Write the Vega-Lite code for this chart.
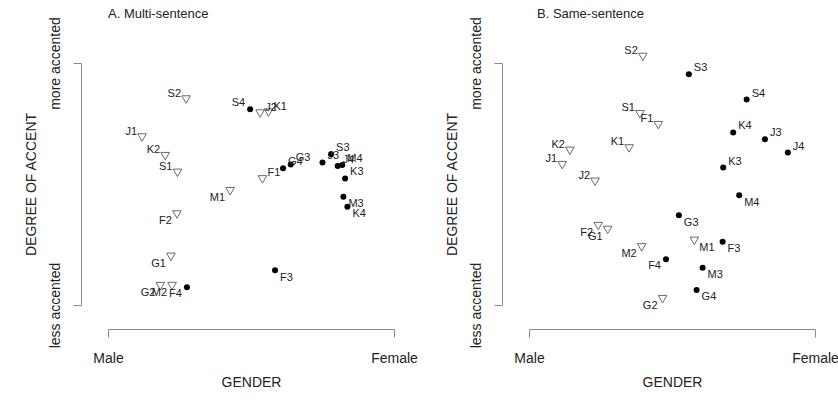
{
  "$schema": "https://vega.github.io/schema/vega-lite/v6.json",
  "padding": {"left": 24, "top": 7, "right": 0, "bottom": 0},
  "background": "white",
  "config": {
    "view": {"stroke": null},
    "font": "Liberation Sans",
    "axis": {
      "grid": false,
      "domainColor": "#8a8a8a",
      "tickColor": "#8a8a8a",
      "tickSize": 8,
      "labelColor": "#222222",
      "titleColor": "#222222",
      "labelFont": "Liberation Sans",
      "titleFont": "Liberation Sans",
      "labelFontSize": 14,
      "titleFontSize": 14,
      "titleFontWeight": "normal",
      "labelFlush": false,
      "labelOverlap": false
    },
    "title": {"font": "Liberation Sans", "fontSize": 13, "fontWeight": "normal", "color": "#222222", "anchor": "start", "frame": "group", "baseline": "alphabetic", "offset": -4}
  },
  "datasets": {
    "pts": [
      {"panel": "A", "id": "S2", "group": "tri", "gender": 27.3, "accent": 84.9, "pos": "ul"},
      {"panel": "A", "id": "J2", "group": "tri", "gender": 53.2, "accent": 79.1, "pos": "ur"},
      {"panel": "A", "id": "K1", "group": "tri", "gender": 56.1, "accent": 79.5, "pos": "ur"},
      {"panel": "A", "id": "J1", "group": "tri", "gender": 11.9, "accent": 69.2, "pos": "ul"},
      {"panel": "A", "id": "K2", "group": "tri", "gender": 20.0, "accent": 61.5, "pos": "ul"},
      {"panel": "A", "id": "S1", "group": "tri", "gender": 24.3, "accent": 54.6, "pos": "ul"},
      {"panel": "A", "id": "M1", "group": "tri", "gender": 42.7, "accent": 47.0, "pos": "ll"},
      {"panel": "A", "id": "F1", "group": "tri", "gender": 54.0, "accent": 51.9, "pos": "ur"},
      {"panel": "A", "id": "F2", "group": "tri", "gender": 24.1, "accent": 37.4, "pos": "ll"},
      {"panel": "A", "id": "G1", "group": "tri", "gender": 22.0, "accent": 19.9, "pos": "ll"},
      {"panel": "A", "id": "G2", "group": "tri", "gender": 18.3, "accent": 7.8, "pos": "ll"},
      {"panel": "A", "id": "M2", "group": "tri", "gender": 22.4, "accent": 7.8, "pos": "ll"},
      {"panel": "A", "id": "S4", "group": "dot", "gender": 49.7, "accent": 80.9, "pos": "ul"},
      {"panel": "A", "id": "S3", "group": "dot", "gender": 78.0, "accent": 62.3, "pos": "ur"},
      {"panel": "A", "id": "G4", "group": "dot", "gender": 61.2, "accent": 56.5, "pos": "ur"},
      {"panel": "A", "id": "G3", "group": "dot", "gender": 63.9, "accent": 58.1, "pos": "ur"},
      {"panel": "A", "id": "J3", "group": "dot", "gender": 75.0, "accent": 58.9, "pos": "ur"},
      {"panel": "A", "id": "J4", "group": "dot", "gender": 80.3, "accent": 57.4, "pos": "ur"},
      {"panel": "A", "id": "M4", "group": "dot", "gender": 81.9, "accent": 57.8, "pos": "ur"},
      {"panel": "A", "id": "K3", "group": "dot", "gender": 82.9, "accent": 52.3, "pos": "ur"},
      {"panel": "A", "id": "M3", "group": "dot", "gender": 82.3, "accent": 44.7, "pos": "lr"},
      {"panel": "A", "id": "K4", "group": "dot", "gender": 83.7, "accent": 40.6, "pos": "lr"},
      {"panel": "A", "id": "F3", "group": "dot", "gender": 58.4, "accent": 14.4, "pos": "lr"},
      {"panel": "A", "id": "F4", "group": "dot", "gender": 27.6, "accent": 7.3, "pos": "ll"},
      {"panel": "B", "id": "S2", "group": "tri", "gender": 39.8, "accent": 102.5, "pos": "ul"},
      {"panel": "B", "id": "S1", "group": "tri", "gender": 38.8, "accent": 78.8, "pos": "ul"},
      {"panel": "B", "id": "F1", "group": "tri", "gender": 45.2, "accent": 74.3, "pos": "ul"},
      {"panel": "B", "id": "K1", "group": "tri", "gender": 35.0, "accent": 64.7, "pos": "ul"},
      {"panel": "B", "id": "K2", "group": "tri", "gender": 14.3, "accent": 63.7, "pos": "ul"},
      {"panel": "B", "id": "J1", "group": "tri", "gender": 11.6, "accent": 57.8, "pos": "ul"},
      {"panel": "B", "id": "J2", "group": "tri", "gender": 23.1, "accent": 50.9, "pos": "ul"},
      {"panel": "B", "id": "F2", "group": "tri", "gender": 24.2, "accent": 32.6, "pos": "ll"},
      {"panel": "B", "id": "G1", "group": "tri", "gender": 27.5, "accent": 31.0, "pos": "ll"},
      {"panel": "B", "id": "M2", "group": "tri", "gender": 39.4, "accent": 23.8, "pos": "ll"},
      {"panel": "B", "id": "M1", "group": "tri", "gender": 57.8, "accent": 26.5, "pos": "lr"},
      {"panel": "B", "id": "G2", "group": "tri", "gender": 46.7, "accent": 2.4, "pos": "ll"},
      {"panel": "B", "id": "S3", "group": "dot", "gender": 55.9, "accent": 95.3, "pos": "ur"},
      {"panel": "B", "id": "S4", "group": "dot", "gender": 76.1, "accent": 84.9, "pos": "ur"},
      {"panel": "B", "id": "K4", "group": "dot", "gender": 71.4, "accent": 71.3, "pos": "ur"},
      {"panel": "B", "id": "J3", "group": "dot", "gender": 82.5, "accent": 68.5, "pos": "ur"},
      {"panel": "B", "id": "J4", "group": "dot", "gender": 90.5, "accent": 63.0, "pos": "ur"},
      {"panel": "B", "id": "K3", "group": "dot", "gender": 67.9, "accent": 56.8, "pos": "ur"},
      {"panel": "B", "id": "M4", "group": "dot", "gender": 73.5, "accent": 45.4, "pos": "lr"},
      {"panel": "B", "id": "G3", "group": "dot", "gender": 52.4, "accent": 37.1, "pos": "lr"},
      {"panel": "B", "id": "F3", "group": "dot", "gender": 67.7, "accent": 26.1, "pos": "lr"},
      {"panel": "B", "id": "F4", "group": "dot", "gender": 47.9, "accent": 18.9, "pos": "ll"},
      {"panel": "B", "id": "M3", "group": "dot", "gender": 60.7, "accent": 15.4, "pos": "lr"},
      {"panel": "B", "id": "G4", "group": "dot", "gender": 58.6, "accent": 6.2, "pos": "lr"}
    ]
  },
  "data": {"name": "pts"},
  "spacing": 27,
  "hconcat": [
    {
      "title": {"text": "A. Multi-sentence"},
      "width": 286,
      "height": 242,
      "transform": [{"filter": "datum.panel == 'A'"}],
      "encoding": {
        "x": {"field": "gender", "type": "quantitative", "title": "GENDER",
          "scale": {"domain": [0, 100], "nice": false, "zero": false},
          "axis": {"values": [0, 100], "labelExpr": "datum.value == 0 ? 'Male' : 'Female'", "offset": 24, "labelPadding": 14, "titlePadding": 10}},
        "y": {"field": "accent", "type": "quantitative", "title": "DEGREE OF ACCENT",
          "scale": {"domain": [0, 100], "nice": false, "zero": false},
          "axis": {"values": [0, 100], "labelExpr": "datum.value == 0 ? 'less accented' : 'more accented'", "offset": 27, "labelAngle": -90, "labelAlign": "center", "labelBaseline": "bottom", "labelPadding": 11, "titlePadding": 10}}
      },
      "layer": [
        {"transform": [{"filter": "datum.group == 'tri'"}], "mark": {"type": "point", "shape": "triangle-down", "filled": false, "stroke": "#6a6a6a", "strokeWidth": 1, "size": 75, "opacity": 1}},
        {"transform": [{"filter": "datum.group == 'dot'"}], "mark": {"type": "circle", "color": "#000000", "size": 36, "opacity": 1}},
        {"transform": [{"filter": "datum.pos == 'ul'"}], "mark": {"type": "text", "align": "right", "baseline": "middle", "dx": -5, "dy": -6, "fontSize": 11, "color": "#222222"}, "encoding": {"text": {"field": "id"}}},
        {"transform": [{"filter": "datum.pos == 'ur'"}], "mark": {"type": "text", "align": "left", "baseline": "middle", "dx": 5, "dy": -6, "fontSize": 11, "color": "#222222"}, "encoding": {"text": {"field": "id"}}},
        {"transform": [{"filter": "datum.pos == 'll'"}], "mark": {"type": "text", "align": "right", "baseline": "middle", "dx": -5, "dy": 7, "fontSize": 11, "color": "#222222"}, "encoding": {"text": {"field": "id"}}},
        {"transform": [{"filter": "datum.pos == 'lr'"}], "mark": {"type": "text", "align": "left", "baseline": "middle", "dx": 5, "dy": 7.5, "fontSize": 11, "color": "#222222"}, "encoding": {"text": {"field": "id"}}}
      ]
    },
    {
      "title": {"text": "B. Same-sentence", "dx": 8},
      "width": 286,
      "height": 242,
      "transform": [{"filter": "datum.panel == 'B'"}],
      "encoding": {
        "x": {"field": "gender", "type": "quantitative", "title": "GENDER",
          "scale": {"domain": [0, 100], "nice": false, "zero": false},
          "axis": {"values": [0, 100], "labelExpr": "datum.value == 0 ? 'Male' : 'Female'", "offset": 24, "labelPadding": 14, "titlePadding": 10}},
        "y": {"field": "accent", "type": "quantitative", "title": "DEGREE OF ACCENT",
          "scale": {"domain": [0, 100], "nice": false, "zero": false},
          "axis": {"values": [0, 100], "labelExpr": "datum.value == 0 ? 'less accented' : 'more accented'", "offset": 27, "labelAngle": -90, "labelAlign": "center", "labelBaseline": "bottom", "labelPadding": 11, "titlePadding": 10}}
      },
      "layer": [
        {"transform": [{"filter": "datum.group == 'tri'"}], "mark": {"type": "point", "shape": "triangle-down", "filled": false, "stroke": "#6a6a6a", "strokeWidth": 1, "size": 75, "opacity": 1}},
        {"transform": [{"filter": "datum.group == 'dot'"}], "mark": {"type": "circle", "color": "#000000", "size": 36, "opacity": 1}},
        {"transform": [{"filter": "datum.pos == 'ul'"}], "mark": {"type": "text", "align": "right", "baseline": "middle", "dx": -5, "dy": -6, "fontSize": 11, "color": "#222222"}, "encoding": {"text": {"field": "id"}}},
        {"transform": [{"filter": "datum.pos == 'ur'"}], "mark": {"type": "text", "align": "left", "baseline": "middle", "dx": 5, "dy": -6, "fontSize": 11, "color": "#222222"}, "encoding": {"text": {"field": "id"}}},
        {"transform": [{"filter": "datum.pos == 'll'"}], "mark": {"type": "text", "align": "right", "baseline": "middle", "dx": -5, "dy": 7, "fontSize": 11, "color": "#222222"}, "encoding": {"text": {"field": "id"}}},
        {"transform": [{"filter": "datum.pos == 'lr'"}], "mark": {"type": "text", "align": "left", "baseline": "middle", "dx": 5, "dy": 7.5, "fontSize": 11, "color": "#222222"}, "encoding": {"text": {"field": "id"}}}
      ]
    }
  ]
}
